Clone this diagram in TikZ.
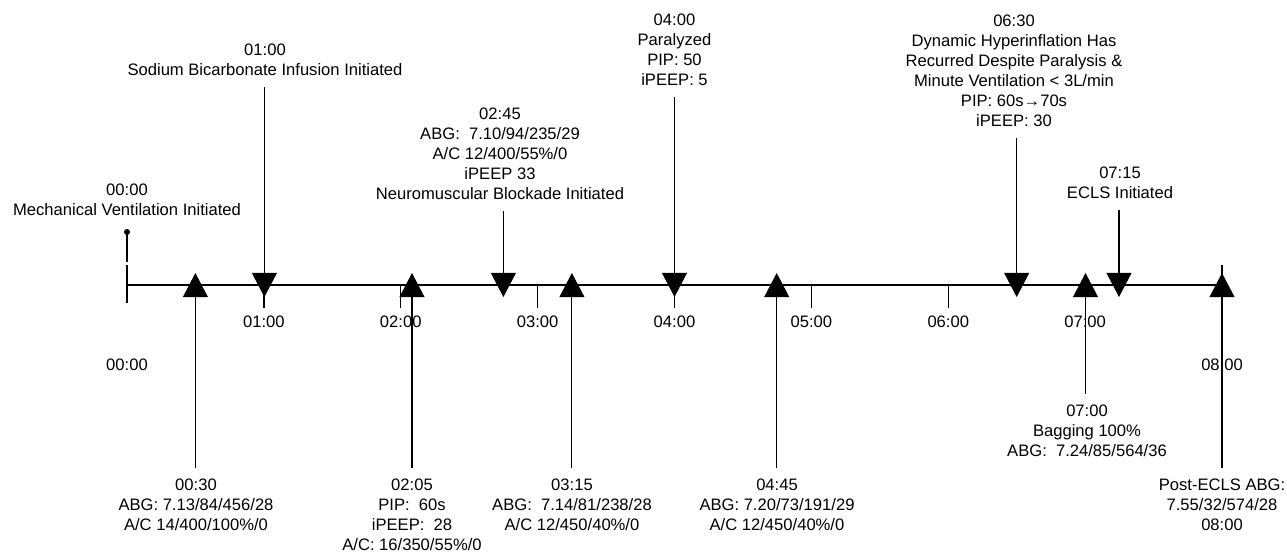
\documentclass[tikz,border=0pt]{standalone}
\usepackage{fontspec}
\setmainfont{Liberation Sans}
\usetikzlibrary{arrows.meta}
\tikzset{
  lbl/.style={align=center, inner sep=0pt, font=\fontsize{11.8}{14.2}\selectfont},
  evtlbl/.style={lbl, anchor=north},
  evt/.style={line width=0.8pt, shorten <=0.28cm, -{Triangle[width=0.62cm,length=0.6cm]}},
  axis/.style={line width=2pt},
  tick/.style={line width=0.9pt},
}
\begin{document}
\begin{tikzpicture}[x=0.025cm,y=-0.025cm]
\useasboundingbox (0,0) rectangle (1287,552);

% time axis
\coordinate (start) at (127,285);
\coordinate (end) at (1222,285);
\draw[axis] (start) -- (end);
\draw[tick] (127,265) -- (127,303);
\draw[tick] (1222,265) -- (1222,303);
\foreach \h in {1,...,7}
  \draw[tick] (127+136.875*\h,285) -- (127+136.875*\h,308);

\node[lbl] (h0) at (127,365) {00:00};
\foreach \h in {1,...,7}
  \node[lbl] (h\h) at (127+136.875*\h,322) {0\h:00};
\node[lbl] (h8) at (1222,365) {08:00};

% start of ventilation
\node[evtlbl] (n000) at (127,184) {00:00\\Mechanical Ventilation Initiated};
\node[circle, fill, inner sep=0pt, minimum size=0.15cm] (pin) at (127,232) {};
\coordinate (pinend) at (127,262);
\draw[tick] (pin) -- (pinend);

% events above the axis
\coordinate (e100) at (264.4,297);
\coordinate (e245) at (503.4,297);
\coordinate (e400) at (674.5,297);
\coordinate (e630) at (1016.7,297);
\coordinate (e715) at (1119,297);

\node[evtlbl] (n100) at (265,44) {01:00\\Sodium Bicarbonate Infusion Initiated};
\node[evtlbl] (n245) at (500,108) {02:45\\ABG:~ 7.10/94/235/29\\A/C 12/400/55\%/0\\iPEEP 33\\Neuromuscular Blockade Initiated};
\node[evtlbl] (n400) at (674.5,14) {04:00\\Paralyzed\\PIP: 50\\iPEEP: 5};
\node[evtlbl] (n630) at (1014,15) {06:30\\Dynamic Hyperinflation Has\\Recurred Despite Paralysis \&\\Minute Ventilation < 3L/min\\PIP: 60s→70s\\iPEEP: 30};
\node[evtlbl] (n715) at (1120,167) {07:15\\ECLS Initiated};

\draw[evt] (n100.south -| e100) -- (e100);
\draw[evt] (n245.south -| e245) -- (e245);
\draw[evt] (n400.south -| e400) -- (e400);
\draw[evt] (n630.south -| e630) -- (e630);
\draw[evt] (n715.south -| e715) -- (e715);

% events below the axis
\coordinate (e030) at (195.4,273);
\coordinate (e205) at (412,273);
\coordinate (e315) at (571.9,273);
\coordinate (e445) at (776.7,273);
\coordinate (e700) at (1085.5,273);
\coordinate (e800) at (1222,273);

\node[evtlbl] (n030) at (196,479) {00:30\\ABG: 7.13/84/456/28\\A/C 14/400/100\%/0};
\node[evtlbl] (n205) at (412,479) {02:05\\PIP:~ 60s\\iPEEP:~ 28\\A/C: 16/350/55\%/0};
\node[evtlbl] (n315) at (572,479) {03:15\\ABG:~ 7.14/81/238/28\\A/C 12/450/40\%/0};
\node[evtlbl] (n445) at (777,479) {04:45\\ABG: 7.20/73/191/29\\A/C 12/450/40\%/0};
\node[evtlbl] (n700) at (1087,405) {07:00\\Bagging 100\%\\ABG:~ 7.24/85/564/36};
\node[evtlbl] (n800) at (1222,479) {Post-ECLS ABG:\\7.55/32/574/28\\08:00};

\draw[evt] (n030.north -| e030) -- (e030);
\draw[evt] (n205.north -| e205) -- (e205);
\draw[evt] (n315.north -| e315) -- (e315);
\draw[evt] (n445.north -| e445) -- (e445);
\draw[evt] (n700.north -| e700) -- (e700);
\draw[evt] (n800.north -| e800) -- (e800);
\end{tikzpicture}
\end{document}
